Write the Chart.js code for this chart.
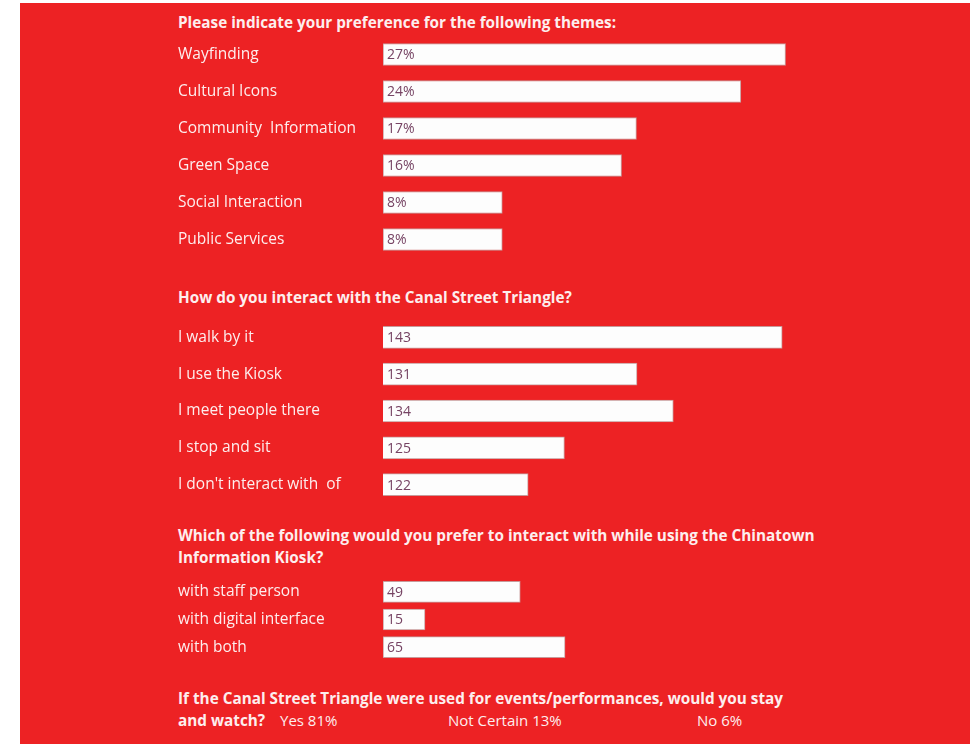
<!DOCTYPE html>
<html>
<head>
<meta charset="utf-8">
<script src="https://cdn.jsdelivr.net/npm/chart.js@4/dist/chart.umd.min.js"></script>
<style>
  body { margin: 0; background: #fff; width: 979px; height: 744px; overflow: hidden; font-family: "Open Sans", sans-serif; }
  #panel { position: absolute; left: 20px; top: 3px; width: 950px; height: 741px; background: #ed2224; }
  .q { position: absolute; left: 178px; color: #fdeeee; font-weight: 700; font-size: 15.3px; line-height: 22px; white-space: nowrap; }
  .a { position: absolute; color: #fdeeee; font-size: 15px; line-height: 22px; white-space: nowrap; }
  canvas { position: absolute; }
</style>
</head>
<body>
<div id="panel"></div>

<div class="q" style="top:11px">Please indicate your preference for the following themes:</div>
<canvas id="chartThemes" width="782" height="222" style="left:178px;top:36px"></canvas>

<div class="q" style="top:286px">How do you interact with the Canal Street Triangle?</div>
<canvas id="chartInteract" width="782" height="184" style="left:178px;top:319px"></canvas>

<div class="q" style="top:524px">Which of the following would you prefer to interact with while using the Chinatown<br>Information Kiosk?</div>
<canvas id="chartKiosk" width="782" height="83" style="left:178px;top:578px"></canvas>

<div class="q" style="top:687px">If the Canal Street Triangle were used for events/performances, would you stay<br>and watch?</div>
<div id="stay"></div>

<script>
const themeLabels = ["Wayfinding", "Cultural Icons", "Community  Information", "Green Space", "Social Interaction", "Public Services"];
const themeValues = [27, 24, 17, 16, 8, 8];

const interactLabels = ["I walk by it", "I use the Kiosk", "I meet people there", "I stop and sit", "I don't interact with  of"];
const interactValues = [143, 131, 134, 125, 122];

const kioskLabels = ["with staff person", "with digital interface", "with both"];
const kioskValues = [49, 15, 65];

const stayLabels = ["Yes", "Not Certain", "No"];
const stayValues = [81, 13, 6];

const labelColor = "#fdeeee";

// value text drawn inside each bar, near its left end
const valueLabels = {
  id: "valueLabels",
  afterDatasetsDraw(chart, args, opts) {
    const ctx = chart.ctx;
    const meta = chart.getDatasetMeta(0);
    const data = chart.data.datasets[0].data;
    const left = chart.chartArea.left;
    ctx.save();
    ctx.font = "14px 'Open Sans'";
    ctx.fillStyle = "#764363";
    ctx.textBaseline = "middle";
    meta.data.forEach((bar, i) => {
      const x0 = Math.max(Math.min(bar.base, bar.x), left);
      ctx.fillText(data[i] + (opts.suffix || ""), x0 + 4, bar.y + 1);
    });
    ctx.restore();
  }
};

function buildBars(id, labels, values, opts) {
  const canvas = document.getElementById(id);
  return new Chart(canvas, {
    type: "bar",
    data: {
      labels: labels,
      datasets: [{
        data: values,
        backgroundColor: "#fdfdfd",
        borderColor: "#c79a9a",
        borderWidth: 1,
        borderSkipped: false,
        barThickness: opts.thickness
      }]
    },
    options: {
      indexAxis: "y",
      responsive: false,
      animation: false,
      layout: { padding: 0 },
      plugins: {
        legend: { display: false },
        tooltip: { enabled: false },
        valueLabels: { suffix: opts.suffix }
      },
      scales: {
        x: {
          display: false,
          min: opts.min,
          max: opts.max,
          beginAtZero: false
        },
        y: {
          grid: { display: false },
          border: { display: false },
          afterFit(scale) {
            scale.width = 205;
            scale.paddingTop = 0;
            scale.paddingBottom = 0;
          },
          ticks: {
            color: labelColor,
            font: { family: "Open Sans", size: 15.5 },
            crossAlign: "far",
            padding: 0,
            autoSkip: false
          }
        }
      }
    },
    plugins: [valueLabels]
  });
}

function buildStay() {
  const box = document.getElementById("stay");
  const lefts = [280, 448, 697];
  box.innerHTML = stayLabels.map((s, i) =>
    `<div class="a" style="top:709px;left:${lefts[i]}px">${s} ${stayValues[i]}%</div>`
  ).join("");
}

document.addEventListener("DOMContentLoaded", () => {
  buildBars("chartThemes", themeLabels, themeValues, { min: 0, max: 38.7, thickness: 22, suffix: "%" });
  buildBars("chartInteract", interactLabels, interactValues, { min: 110, max: 157.7, thickness: 22, suffix: "" });
  buildBars("chartKiosk", kioskLabels, kioskValues, { min: 0, max: 206, thickness: 21, suffix: "" });
  buildStay();
});
</script>
</body>
</html>
